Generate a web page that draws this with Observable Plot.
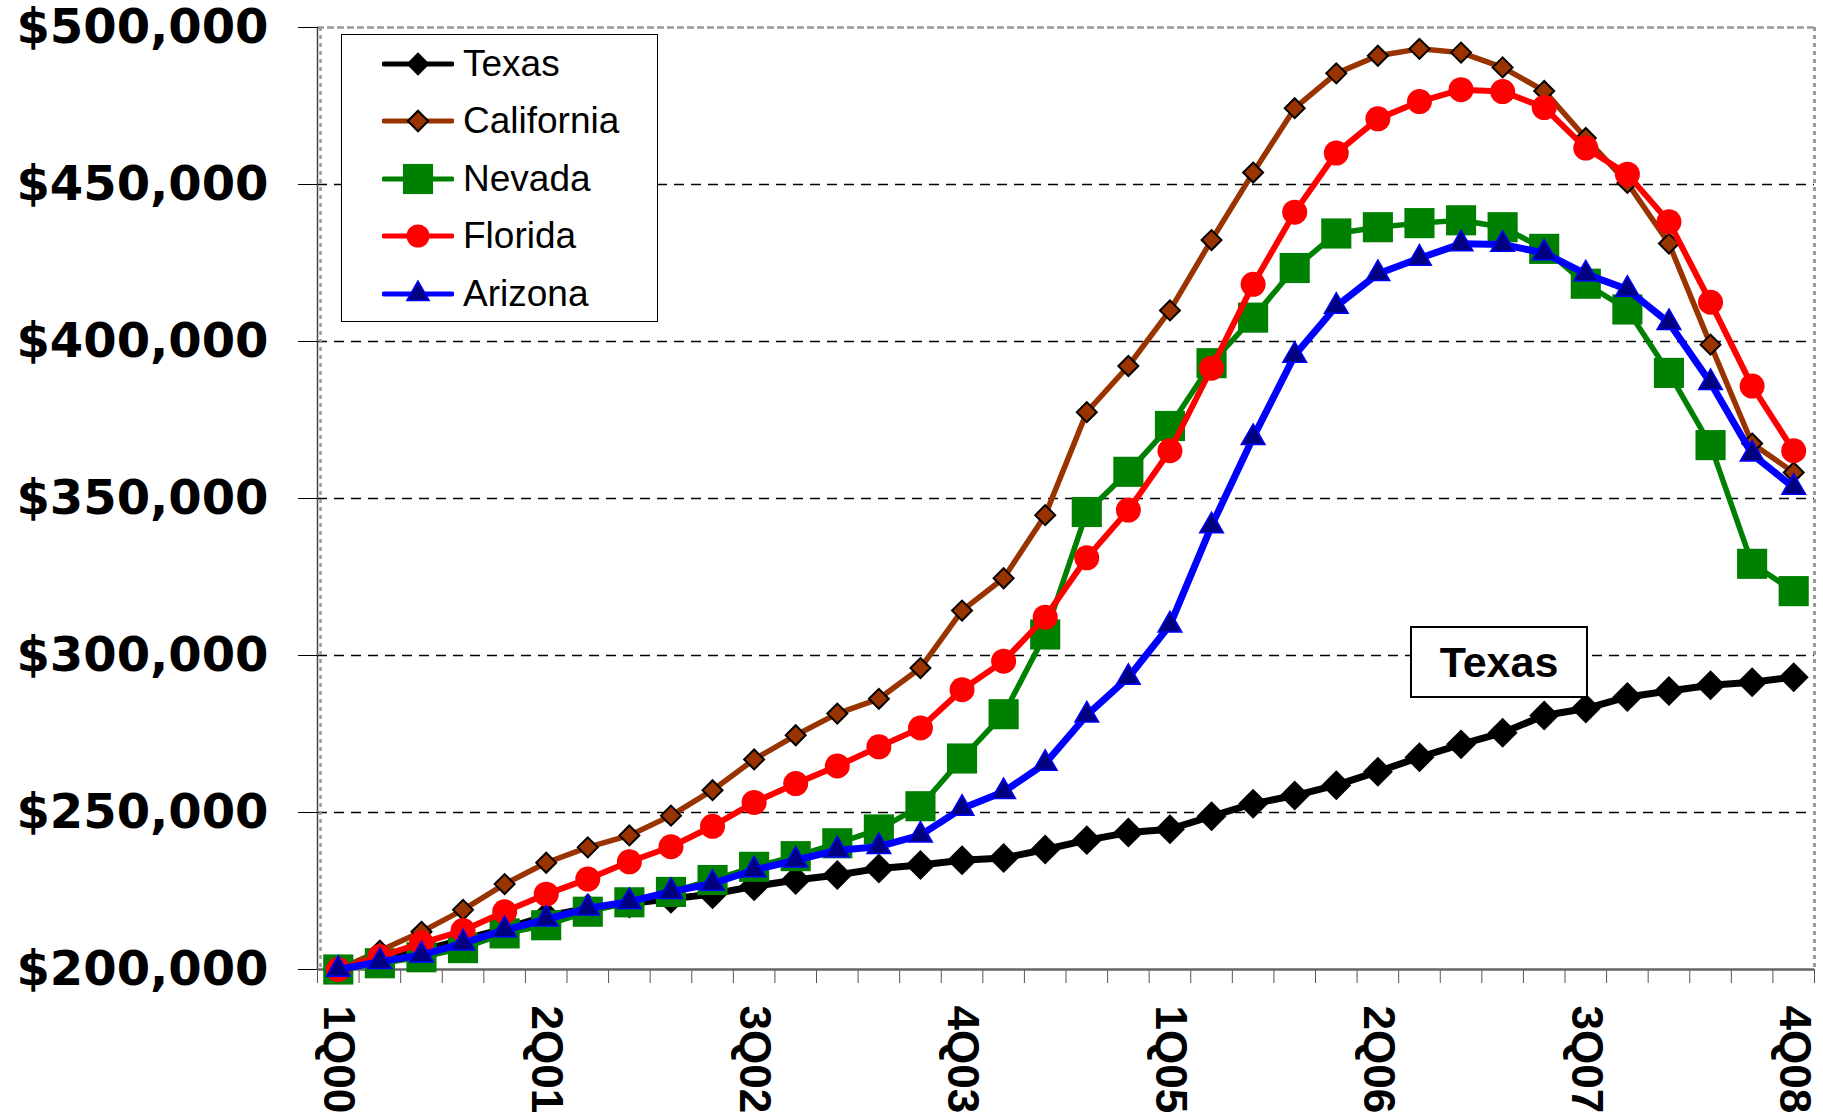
<!DOCTYPE html>
<html><head><meta charset="utf-8">
<script src="https://cdn.jsdelivr.net/npm/d3@7"></script>
<script src="https://cdn.jsdelivr.net/npm/@observablehq/plot@0.6"></script>
<style>
html,body{margin:0;padding:0;background:#fff;}
#wrap{position:relative;width:1823px;height:1112px;overflow:hidden;font-family:"Liberation Sans",Arial,sans-serif;background:#fff;}
#legend{position:absolute;left:341px;top:34px;width:315px;height:286px;border:1.5px solid #000;background:#fff;}
.entry{position:absolute;left:0;height:56px;display:flex;align-items:center;}
.entry svg{margin-left:40px;display:block;}
.entry span{font-size:37px;margin-left:9px;color:#000;}
#texasLabel{position:absolute;left:1410px;top:626px;width:174px;height:68px;border:2px solid #000;background:#fff;font-weight:bold;font-size:43px;display:flex;align-items:center;justify-content:center;color:#000;}
</style></head>
<body><div id="wrap"></div>
<script>
const quarters = [
  "1Q00","2Q00","3Q00","4Q00","1Q01","2Q01","3Q01","4Q01","1Q02","2Q02","3Q02","4Q02",
  "1Q03","2Q03","3Q03","4Q03","1Q04","2Q04","3Q04","4Q04","1Q05","2Q05","3Q05","4Q05",
  "1Q06","2Q06","3Q06","4Q06","1Q07","2Q07","3Q07","4Q07","1Q08","2Q08","3Q08","4Q08"
];
const labeledQuarters = ["1Q00","2Q01","3Q02","4Q03","1Q05","2Q06","3Q07","4Q08"];

const texas = [200000,203000,206000,209500,213000,217000,219500,221000,222500,224000,226500,228500,
  230100,232200,233300,234800,235500,238200,241200,243600,244700,248800,252800,255400,
  258700,263000,267600,271700,275400,280900,283100,286800,288700,290500,291500,293100];
const california = [200000,206000,212000,219000,227200,234000,238900,242700,249000,257100,266900,274600,
  281500,286200,296000,314300,324600,344700,377500,392200,409900,432300,453800,474300,
  485400,491000,493200,492000,487300,479800,464800,450500,431200,399000,367500,358300];
const nevada = [200000,202000,203900,206800,211500,214100,218400,221400,224700,228500,232700,236100,
  240200,244600,252000,267200,281300,306700,345700,358500,373100,393100,407600,423400,
  434400,436400,437700,438600,436400,429500,418400,410200,390000,367000,329200,320500];
const florida = [200000,204100,208400,212400,218400,224000,228800,234300,239100,245600,253200,259200,
  264800,270900,276900,289100,298200,312200,331100,346300,365200,391500,418200,441200,
  460000,470900,476400,480200,479600,474500,461600,453300,438100,412500,385800,365200];
const arizona = [200000,202500,204600,208400,212600,216000,219500,221600,224800,227400,231700,234800,
  238000,239100,242800,251300,256600,265600,281000,293000,309700,341300,369400,395600,
  411200,421600,426500,431100,430900,428200,421500,416600,406000,386900,364100,353500];

const yTicks = [200000,250000,300000,350000,400000,450000,500000];

const seriesNames = ["Texas","California","Nevada","Florida","Arizona"];
const seriesValues = [texas, california, nevada, florida, arizona];
const styles = {
  Texas:      {stroke:"#000000", strokeWidth:7,   symbol:"diamond2", fill:"#000000", mstroke:"#000000", msw:0,   r:13.5, lr:10.5},
  California: {stroke:"#993300", strokeWidth:5.5, symbol:"diamond2", fill:"#993300", mstroke:"#000000", msw:2,   r:9,    lr:9.2},
  Nevada:     {stroke:"#008000", strokeWidth:5.5, symbol:"square",   fill:"#008000", mstroke:"none",    msw:0,   r:17,   lr:17},
  Florida:    {stroke:"#FF0000", strokeWidth:6,   symbol:"circle",   fill:"#FF0000", mstroke:"none",    msw:0,   r:12.5, lr:11.5},
  Arizona:    {stroke:"#0000FF", strokeWidth:7,   symbol:"triangle", fill:"#000080", mstroke:"#0000FF", msw:1.5, r:8.8,  lr:8.3}
};

const seriesMarks = [];
seriesNames.forEach((name, k) => {
  const st = styles[name];
  const data = seriesValues[k].map((v, i) => ({i, v, q: quarters[i], name}));
  seriesMarks.push(Plot.line(data, {x: "i", y: "v", stroke: st.stroke, strokeWidth: st.strokeWidth, strokeLinejoin: "round"}));
  seriesMarks.push(Plot.dot(data, {x: "i", y: "v", symbol: st.symbol, r: st.r, fill: st.fill, stroke: st.mstroke, strokeWidth: st.msw}));
});

const labelIdx = labeledQuarters.map(q => quarters.indexOf(q));
const boundaryTicks = d3.range(quarters.length + 1).map(i => i - 0.5);

const chart = Plot.plot({
  width: 1823,
  height: 1112,
  marginLeft: 317,
  marginRight: 9,
  marginTop: 27,
  marginBottom: 143,
  style: {fontFamily: "'Liberation Sans', Arial, sans-serif", background: "white", overflow: "visible"},
  x: {type: "linear", domain: [-0.5, quarters.length - 0.5], label: null},
  y: {domain: [200000, 500000], label: null},
  marks: [
    Plot.gridY({ticks: yTicks.slice(1, -1), stroke: "#000", strokeOpacity: 1, strokeWidth: 1.3, strokeDasharray: "10,7"}),
    Plot.ruleY([500000], {stroke: "#999", strokeWidth: 2.5, strokeDasharray: "7,3"}),
    Plot.ruleX([quarters.length - 0.5], {stroke: "#999", strokeWidth: 3, strokeDasharray: "4,4"}),
    Plot.ruleX([-0.5], {stroke: "#999", strokeWidth: 2.5, strokeDasharray: "4,4", dx: 3}),
    Plot.ruleX([-0.5], {stroke: "#444", strokeWidth: 1.5}),
    Plot.axisY({ticks: yTicks, tickSize: 19, tickPadding: 30, tickFormat: d3.format("$,"), label: null,
      fontSize: 48, fontWeight: "bold", fontFamily: "'DejaVu Sans', sans-serif", stroke: "#000", color: "#000"}),
    Plot.axisX({ticks: boundaryTicks, tickSize: 14, tickFormat: () => "", label: null, stroke: "#555"}),
    Plot.axisX({ticks: labelIdx, tickSize: 0, tickPadding: 36, tickRotate: 90, tickFormat: i => quarters[i], label: null,
      fontSize: 44, fontWeight: "bold", color: "#000"}),
    Plot.ruleY([200000], {stroke: "#666", strokeWidth: 2.5}),
    ...seriesMarks
  ]
});

const wrap = document.getElementById("wrap");
wrap.appendChild(chart);

// Legend
const legend = document.createElement("div");
legend.id = "legend";
const symMap = {diamond2: d3.symbolDiamond2, square: d3.symbolSquare, circle: d3.symbolCircle, triangle: d3.symbolTriangle};
seriesNames.forEach((name, k) => {
  const st = styles[name];
  const e = document.createElement("div");
  e.className = "entry";
  e.style.top = (29 + k * 57.4 - 28) + "px";
  const svg = d3.create("svg").attr("width", 72).attr("height", 40);
  svg.append("line").attr("x1", 2).attr("x2", 70).attr("y1", 20).attr("y2", 20)
    .attr("stroke", st.stroke).attr("stroke-width", 5).attr("stroke-linecap", "round");
  svg.append("path").attr("transform", "translate(36,20)")
    .attr("d", d3.symbol(symMap[st.symbol], Math.PI * st.lr * st.lr)())
    .attr("fill", st.fill).attr("stroke", st.mstroke).attr("stroke-width", st.msw);
  e.appendChild(svg.node());
  const sp = document.createElement("span");
  sp.textContent = name;
  e.appendChild(sp);
  legend.appendChild(e);
});
wrap.appendChild(legend);

const tl = document.createElement("div");
tl.id = "texasLabel";
tl.textContent = seriesNames[0];
wrap.appendChild(tl);
</script></body></html>
